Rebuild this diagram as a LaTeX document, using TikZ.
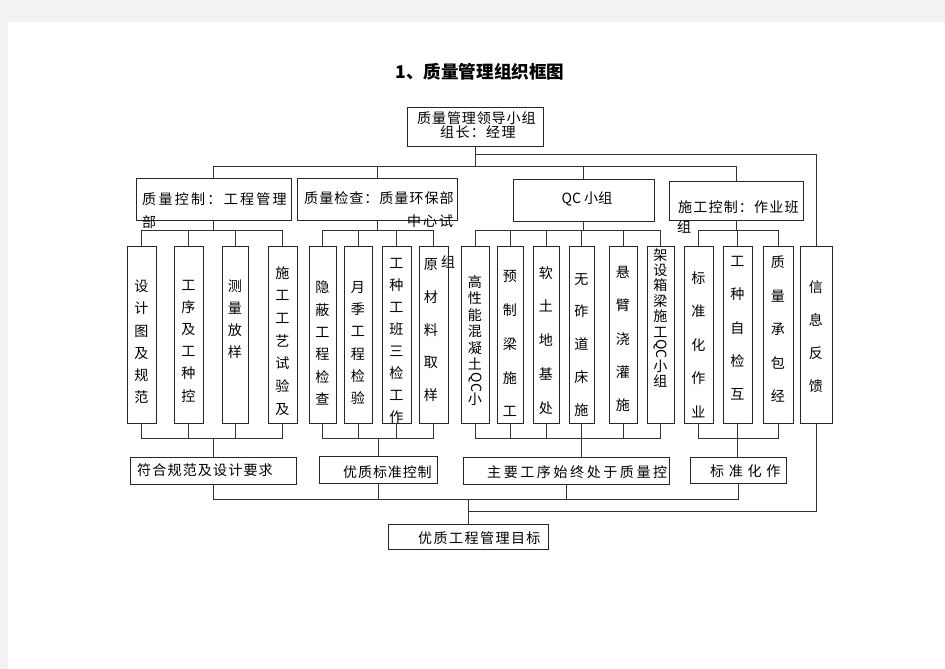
\documentclass[tikz,border=0pt]{standalone}
\usepackage{fontspec}
\setmainfont{Noto Sans CJK SC}
\usepackage{tikz}
\usetikzlibrary{calc, positioning}

% Fonte das colunas verticais e do texto espacado
\newcommand{\vfont}[1]{\pgfmathsetlengthmacro\vskp{#1*0.8504pt}\fontsize{12pt}{\vskp}\selectfont}
\newcommand{\lsfont}[1]{\fontsize{12pt}{14pt}\selectfont\addfontfeature{LetterSpace=#1}}

\tikzset{
  bx/.style={draw=black!85, line width=0.7pt, inner sep=0pt},
  vbox/.style={bx, minimum width=#1*0.03cm, minimum height=177*0.03cm},
  vtxt/.style={inner sep=0pt, anchor=north, align=center, font=\vfont{#1}},
  htxt/.style={inner sep=0pt, anchor=west, font=\lsfont{#1}},
  link/.style={draw=black!80, line width=0.7pt}
}

\begin{document}
\begin{tikzpicture}[x=0.03cm, y=-0.03cm]
    % Pagina
    \useasboundingbox (0,0) rectangle (945,669);
    \fill[black!5] (0,0) rectangle (945,669);
    \fill[white] (8,22) rectangle (945,669);

    % Titulo
    \node[font=\fontsize{15pt}{18pt}\selectfont\bfseries] (title) at (480,72) {1、质量管理组织框图};

    % Lider (topo)
    \node[bx, minimum width=136*0.03cm, minimum height=39*0.03cm] (lead) at (475,126.5) {};
    \node[htxt=6] (leadt1) at (417,118) {质量管理领导小组};
    \node[htxt=9] (leadt2) at (440,132) {组长：经理};

    % Segundo nivel
    \node[bx, minimum width=155*0.03cm, minimum height=42*0.03cm] (zk) at (213.5,199) {};
    \node[htxt=16] (zkt1) at (142,199) {质量控制：工程管理};
    \node[htxt=0] (zkt2) at (142,222) {部};
    \node[bx, minimum width=160*0.03cm, minimum height=42*0.03cm] (zj) at (377,199) {};
    \node[htxt=7] (zjt1) at (304,198) {质量检查：质量环保部};
    \node[htxt=13] (zjt2) at (407,221) {中心试};
    \node[htxt=0] (zjt3) at (441,262) {组};
    \node[bx, minimum width=141*0.03cm, minimum height=42*0.03cm] (qc) at (583.5,200) {};
    \node[font=\fontsize{12pt}{14pt}\selectfont] (qct) at (587,199) {QC 小组};
    \node[bx, minimum width=134*0.03cm, minimum height=39*0.03cm] (sg) at (736,200.5) {};
    \node[htxt=8] (sgt1) at (678,207) {施工控制：作业班};
    \node[htxt=0] (sgt2) at (677,227) {组};

    % Colunas verticais
    \node[vbox=29] (v11) at (141.5,334.5) {};
    \node[vbox=29] (v12) at (188.5,334.5) {};
    \node[vbox=26] (v13) at (235,334.5) {};
    \node[vbox=29] (v14) at (282.5,334.5) {};
    \node[vtxt=22.2] (t11) at (141.5,280) {设\\计\\图\\及\\规\\范};
    \node[vtxt=22.2] (t12) at (188.5,280) {工\\序\\及\\工\\种\\控};
    \node[vtxt=22] (t13) at (235,280) {测\\量\\放\\样};
    \node[vtxt=22.8] (t14) at (282.5,266) {施\\工\\工\\艺\\试\\验\\及};

    \node[vbox=27] (v21) at (322.5,334.5) {};
    \node[vbox=28] (v22) at (358,334.5) {};
    \node[vbox=29] (v23) at (396.5,334.5) {};
    \node[vbox=29] (v24) at (433.5,334.5) {};
    \node[vtxt=22.4] (t21) at (322.5,281) {隐\\蔽\\工\\程\\检\\查};
    \node[vtxt=22.4] (t22) at (358,281) {月\\季\\工\\程\\检\\验};
    \node[vtxt=22.1] (t23) at (396.5,258) {工\\种\\工\\班\\三\\检\\工\\作};
    \node[vtxt=33] (t24) at (431,258) {原\\材\\料\\取\\样};

    \node[vbox=28] (v31) at (475,335) {};
    \node[vbox=26] (v32) at (510,335) {};
    \node[vbox=26] (v33) at (546,335) {};
    \node[vbox=25] (v34) at (581.5,335) {};
    \node[vbox=28] (v35) at (623,334.5) {};
    \node[vbox=27] (v36) at (660.5,334.5) {};
    \node[vtxt=16.6] (t31) at (475,275) {高\\性\\能\\混\\凝\\土\\\rotatebox[origin=c]{-90}{QC}\\小};
    \node[vtxt=34] (t32) at (510,270) {预\\制\\梁\\施\\工};
    \node[vtxt=34] (t33) at (546,266) {软\\土\\地\\基\\处};
    \node[vtxt=33] (t34) at (581.5,273) {无\\砟\\道\\床\\施};
    \node[vtxt=33.5] (t35) at (623,266) {悬\\臂\\浇\\灌\\施};
    \node[vtxt=15.5] (t36) at (660.5,248) {架\\设\\箱\\梁\\施\\工\\\rotatebox[origin=c]{-90}{QC}\\小\\组};

    \node[vbox=29] (v41) at (698.5,334.5) {};
    \node[vbox=29] (v42) at (737.5,334.5) {};
    \node[vbox=30] (v43) at (778,334.5) {};
    \node[vbox=32] (info) at (816,335) {};
    \node[vtxt=33.75] (t41) at (698.5,271) {标\\准\\化\\作\\业};
    \node[vtxt=33.5] (t42) at (737.5,256) {工\\种\\自\\检\\互};
    \node[vtxt=33.5] (t43) at (778,256) {质\\量\\承\\包\\经};
    \node[vtxt=33.3] (t44) at (816,280) {信\\息\\反\\馈};

    % Resultados
    \node[bx, minimum width=166*0.03cm, minimum height=27*0.03cm] (r1) at (213,470.5) {};
    \node[htxt=8] (r1t) at (137,470) {符合规范及设计要求};
    \node[bx, minimum width=118*0.03cm, minimum height=27*0.03cm] (r2) at (378,469.5) {};
    \node[htxt=6] (r2t) at (343,472) {优质标准控制};
    \node[bx, minimum width=206*0.03cm, minimum height=27*0.03cm] (r3) at (566,470.5) {};
    \node[htxt=18] (r3t) at (487,472) {主要工序始终处于质量控};
    \node[bx, minimum width=96*0.03cm, minimum height=26*0.03cm] (r4) at (738,470) {};
    \node[htxt=33] (r4t) at (710,471) {标准化作};

    % Objetivo final
    \node[bx, minimum width=160*0.03cm, minimum height=25*0.03cm] (goal) at (468,536.5) {};
    \node[htxt=10] (goalt) at (418,538) {优质工程管理目标};

    % Ligacoes do topo
    \draw[link] (lead.south) -- (lead.south |- 0,166);
    \draw[link] (lead.south |- 0,154) -| (info.north);
    \draw[link] (zk.north) -- (zk.north |- 0,166) -| (sg.north);
    \foreach \n in {zj,qc}
        \draw[link] (\n.north) -- (\n.north |- 0,166);

    % Barramentos de cada grupo (cima e baixo)
    \foreach \g/\a/\b/\m/\r in {zk/v11/v14/{v12,v13}/r1, zj/v21/v24/{v22,v23}/r2,
                                qc/v31/v36/{v32,v33,v34,v35}/r3, sg/v41/v43/{v42}/r4} {
        \draw[link] (\g.south) -- (\g.south |- 0,230);
        \draw[link] (\a.north) -- (\a.north |- 0,230) -| (\b.north);
        \draw[link] (\a.south) -- (\a.south |- 0,438) -| (\b.south);
        \foreach \v in \m {
            \draw[link] (\v.north) -- (\v.north |- 0,230);
            \draw[link] (\v.south) -- (\v.south |- 0,438);
        }
    }
    \draw[link] (r1.north) -- (r1.north |- 0,438);
    \draw[link] (r2.north) -- (r2.north |- 0,438);
    \draw[link] (v34.south |- 0,438) -- (v34.south |- r3.north);
    \draw[link] (v42.south |- 0,438) -- (v42.south |- r4.north);

    % Ligacoes para o objetivo
    \draw[link] (r1.south) -- (r1.south |- 0,499) -| (r4.south);
    \foreach \n in {r2,r3}
        \draw[link] (\n.south) -- (\n.south |- 0,499);
    \draw[link] (goal.north) -- (goal.north |- 0,499);
    \draw[link] (info.south) |- (goal.north |- 0,511);
\end{tikzpicture}
\end{document}
